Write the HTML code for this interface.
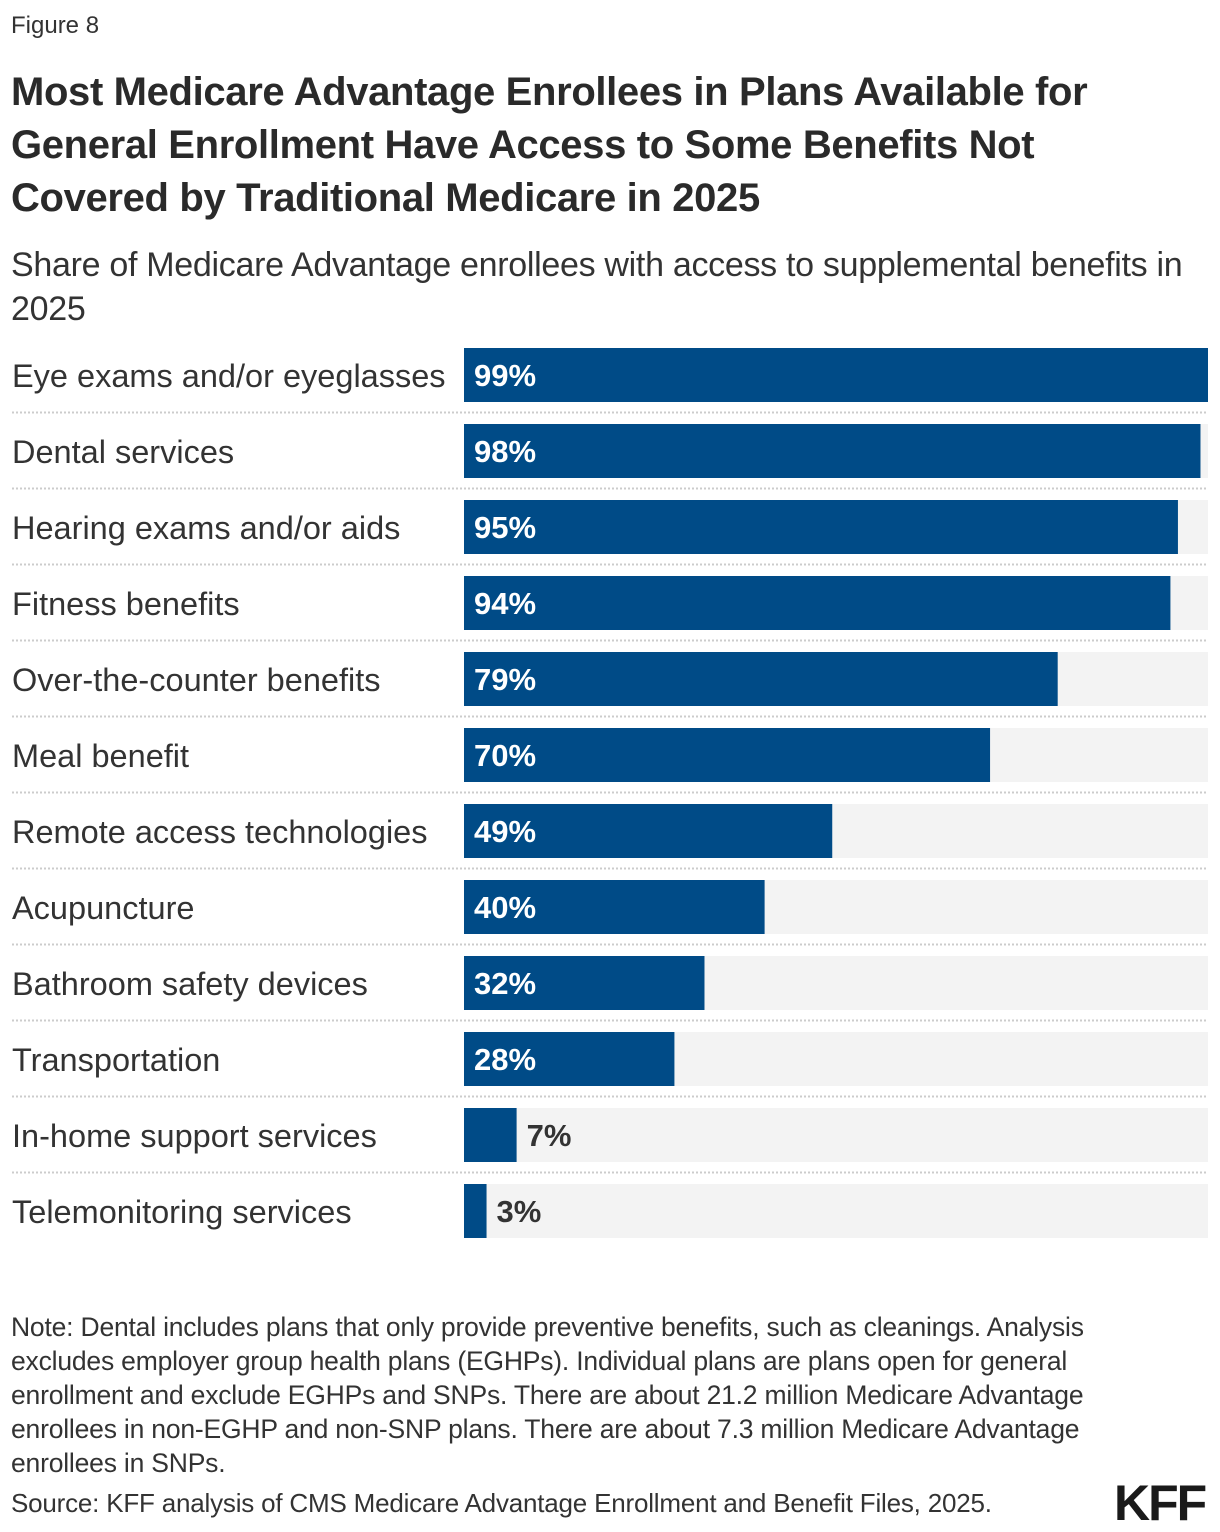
<!DOCTYPE html>
<html><head><meta charset="utf-8"><style>
body{margin:0;width:1220px;height:1532px;background:#fff;font-family:"Liberation Sans",sans-serif;color:#333;position:relative;overflow:hidden}
.t{position:absolute;left:11px;white-space:nowrap}
</style></head><body>
<div class="t" style="top:12px;font-size:24px;color:#333">Figure 8</div>
<div class="t" style="top:66px;font-size:40px;font-weight:bold;line-height:53px;color:#2a2a2a;letter-spacing:-0.35px">Most Medicare Advantage Enrollees in Plans Available for<br>General Enrollment Have Access to Some Benefits Not<br>Covered by Traditional Medicare in 2025</div>
<div class="t" style="top:243px;font-size:34px;line-height:44px;color:#333;letter-spacing:-0.3px">Share of Medicare Advantage enrollees with access to supplemental benefits in<br>2025</div>
<svg id="chart" width="1220" height="1260" style="position:absolute;left:0;top:0"></svg>
<div class="t" style="top:1310px;font-size:26.5px;line-height:34px;color:#333;letter-spacing:-0.2px">Note: Dental includes plans that only provide preventive benefits, such as cleanings. Analysis<br>excludes employer group health plans (EGHPs). Individual plans are plans open for general<br>enrollment and exclude EGHPs and SNPs. There are about 21.2 million Medicare Advantage<br>enrollees in non-EGHP and non-SNP plans. There are about 7.3 million Medicare Advantage<br>enrollees in SNPs.</div>
<div class="t" style="top:1488px;font-size:26px;color:#333;letter-spacing:-0.2px">Source: KFF analysis of CMS Medicare Advantage Enrollment and Benefit Files, 2025.</div>
<div style="position:absolute;left:1114px;top:1474px;font-size:50px;font-weight:bold;color:#1a1a1a;letter-spacing:-2px">KFF</div>
<script>
const categories=["Eye exams and/or eyeglasses","Dental services","Hearing exams and/or aids","Fitness benefits","Over-the-counter benefits","Meal benefit","Remote access technologies","Acupuncture","Bathroom safety devices","Transportation","In-home support services","Telemonitoring services"];
const values=[99,98,95,94,79,70,49,40,32,28,7,3];
const svg=document.getElementById('chart');
const NS='http://www.w3.org/2000/svg';
const x0=464,W=744,top0=348,step=76,bh=54;
const maxV=Math.max(...values);
const xs=v=>v/maxV*W;
function mk(t,a){const e=document.createElementNS(NS,t);for(const k in a)e.setAttribute(k,a[k]);svg.appendChild(e);return e;}
categories.forEach((c,i)=>{
 const y=top0+i*step;
 const tr=mk('rect',{x:x0,y:y,width:W,height:bh,fill:'#f3f3f3'});
 
 
 const w=xs(values[i]);
 const b=mk('rect',{x:x0,y:y,width:w,height:bh,fill:'#004b87'});
 
 
 const l=mk('text',{x:12,y:y+bh/2+12,'font-size':32.5,fill:'#333','font-family':'Liberation Sans, sans-serif'});
 l.textContent=c;
 
 
 const inside=w>80;
 const v=mk('text',{x:inside?x0+10:x0+w+10,y:y+bh/2+11,'font-size':31,'font-weight':'bold',fill:inside?'#fff':'#333','font-family':'Liberation Sans, sans-serif'});
 v.textContent=values[i]+'%';
 
 
 if(i<categories.length-1){
  const s=mk('line',{x1:12,x2:1208,y1:y+bh+10.5,y2:y+bh+10.5,stroke:'#ccc','stroke-width':2,'stroke-dasharray':'2 2'});
  
  
 }
});
</script>
</body></html>
